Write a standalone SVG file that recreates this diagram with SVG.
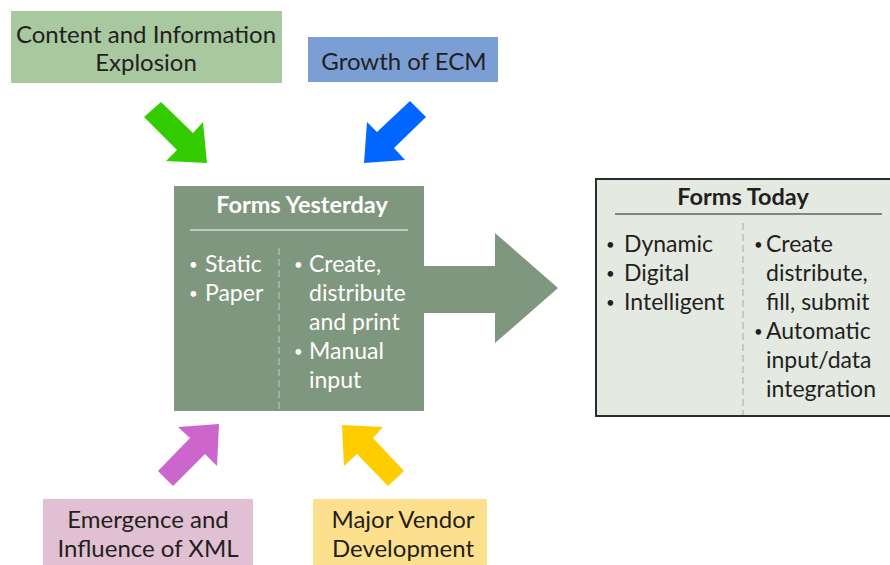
<svg xmlns="http://www.w3.org/2000/svg" width="890" height="565" viewBox="0 0 890 565">
  <style>
    text { font-family: "Lato", "Open Sans", "Liberation Sans", sans-serif; font-size: 24px; fill: #231f20; }
    .mid { text-anchor: middle; }
    .light { fill: #ffffff; }
    .head { font-weight: bold; font-size: 23.5px; }
    .item { font-size: 23px; }
    .dot { font-size: 15px; }
  </style>
  <rect width="890" height="565" fill="#ffffff"/>

  <!-- influence boxes -->
  <g id="content-explosion">
    <rect x="11" y="11" width="271" height="72" fill="#a8c8a0"/>
    <text class="mid" x="146" y="43">Content and Information</text>
    <text class="mid" x="146" y="71">Explosion</text>
  </g>
  <g id="growth-ecm">
    <rect x="308" y="37" width="190" height="45" fill="#7b9fd4"/>
    <text class="mid" x="404" y="70">Growth of ECM</text>
  </g>
  <g id="xml">
    <rect x="43" y="499" width="210" height="66" fill="#e2c0d3"/>
    <text class="mid" x="148" y="528">Emergence and</text>
    <text class="mid" x="148" y="557">Influence of XML</text>
  </g>
  <g id="vendor">
    <rect x="313" y="499" width="174" height="66" fill="#fde08e"/>
    <text class="mid" x="403" y="528">Major Vendor</text>
    <text class="mid" x="403" y="557">Development</text>
  </g>

  <!-- central nodes -->
  <g id="forms-yesterday">
    <rect x="174" y="186" width="250" height="225" fill="#7f977e"/>
    <polygon points="423,266 495,266 495,233 558,288 495,343 495,313 423,313" fill="#7f977e"/>
    <text class="mid light head" x="302" y="213">Forms Yesterday</text>
    <line x1="190" y1="230" x2="408" y2="230" stroke="#d2dcd0" stroke-width="1.5"/>
    <line x1="279" y1="248" x2="279" y2="410" stroke="#c3cfc1" stroke-width="1" stroke-dasharray="7 4"/>
    <text class="light dot" x="189" y="270">•</text>
    <text class="light item" x="205" y="272">Static</text>
    <text class="light dot" x="189" y="299">•</text>
    <text class="light item" x="205" y="301">Paper</text>
    <text class="light dot" x="294" y="270">•</text>
    <text class="light item" x="309" y="272">Create,</text>
    <text class="light item" x="309" y="301">distribute</text>
    <text class="light item" x="309" y="330">and print</text>
    <text class="light dot" x="294" y="357">•</text>
    <text class="light item" x="309" y="359">Manual</text>
    <text class="light item" x="309" y="388">input</text>
  </g>

  <g id="forms-today">
    <rect x="596" y="179" width="296" height="237" fill="#e4e9e2" stroke="#2b2b2b" stroke-width="2"/>
    <text class="mid head" x="743" y="205">Forms Today</text>
    <line x1="615" y1="214" x2="882" y2="214" stroke="#231f20" stroke-width="1.2"/>
    <line x1="743" y1="223" x2="743" y2="415" stroke="#a8aaa8" stroke-width="1" stroke-dasharray="7 4"/>
    <text class="dot" x="606" y="250">•</text>
    <text class="item" x="624" y="252">Dynamic</text>
    <text class="dot" x="606" y="279">•</text>
    <text class="item" x="624" y="281">Digital</text>
    <text class="dot" x="606" y="308">•</text>
    <text class="item" x="624" y="310">Intelligent</text>
    <text class="dot" x="754" y="250">•</text>
    <text class="item" x="766" y="252">Create</text>
    <text class="item" x="766" y="281">distribute,</text>
    <text class="item" x="766" y="310">fill, submit</text>
    <text class="dot" x="754" y="337">•</text>
    <text class="item" x="766" y="339">Automatic</text>
    <text class="item" x="766" y="368">input/data</text>
    <text class="item" x="766" y="397">integration</text>
  </g>

  <!-- block arrows pointing at Forms Yesterday -->
  <g id="connectors">
    <polygon points="144,117 161,102 193,133 203,122 207,163 166,161 177,150" fill="#33cc00"/>
    <polygon points="410,101 426,117 394,148 405,160 364,163 367,122 377,132" fill="#0066ff"/>
    <polygon points="158,471 173,486 205,454 217,466 219,424 178,427 190,438" fill="#cc66cc"/>
    <polygon points="404,471 388,486 357,454 344,466 342,425 383,427 373,438" fill="#ffcc00"/>
  </g>
</svg>
